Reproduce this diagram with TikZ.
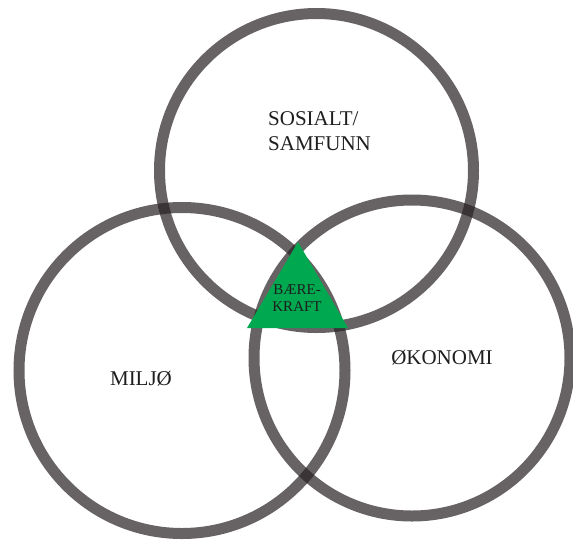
\documentclass[tikz,border=0pt]{standalone}
\usepackage{fontspec}
\setmainfont{Liberation Serif}
\usepackage{tikz}
\usetikzlibrary{positioning}
\definecolor{ink}{HTML}{1E1E1E}
\definecolor{ringgray}{HTML}{262022}
\definecolor{leafgreen}{HTML}{00A84F}
\tikzset{
  ring/.style={draw=ringgray, draw opacity=.7, line width=11pt},
  biglabel/.style={text=ink, inner sep=0pt, font=\fontsize{21}{25}\selectfont},
  smalllabel/.style={text=ink, inner sep=0pt, align=center, font=\fontsize{15}{17}\selectfont}
}
\begin{document}
\begin{tikzpicture}[x=1pt,y=-1pt]
  \useasboundingbox (0,0) rectangle (573,539);
  % the three rings
  \draw[ring] (316.5,170.5) circle[radius=157pt];
  \draw[ring] (182,370.5) circle[radius=163pt];
  \draw[ring] (412,358) circle[radius=158pt];
  % centre
  \fill[leafgreen] (298,242) -- (247,328) -- (348,328) -- cycle;
  \node[smalllabel] (baere) at (297,298) {BÆRE-\\KRAFT};
  % labels
  \node[biglabel, align=left, anchor=west] (sosialt) at (268,131) {SOSIALT/\\SAMFUNN};
  \node[biglabel] (miljo) at (141,379) {MILJØ};
  \node[biglabel] (okonomi) at (442,358) {ØKONOMI};
\end{tikzpicture}
\end{document}
